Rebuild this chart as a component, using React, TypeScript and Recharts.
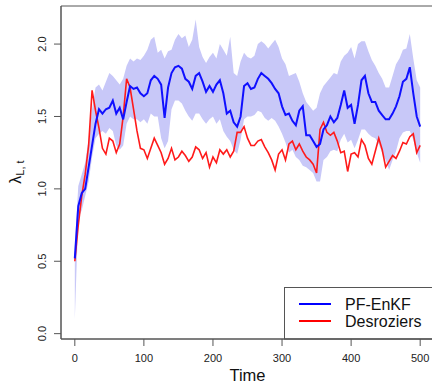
import { ComposedChart, Area, Line, XAxis, YAxis, ReferenceArea, Customized } from 'recharts';

// time step between the values
const STEP = 5;

const PF_ENKF = [
  0.52, 0.88, 0.97, 1.0, 1.15, 1.3, 1.45, 1.55, 1.52, 1.55,
  1.56, 1.61, 1.52, 1.56, 1.48, 1.6, 1.71, 1.69, 1.7, 1.66,
  1.64, 1.66, 1.75, 1.78, 1.76, 1.72, 1.49, 1.7, 1.8, 1.84,
  1.85, 1.83, 1.76, 1.74, 1.69, 1.78, 1.8, 1.74, 1.67, 1.71,
  1.67, 1.72, 1.75, 1.66, 1.52, 1.54, 1.46, 1.43, 1.5, 1.71,
  1.73, 1.69, 1.7, 1.76, 1.8, 1.78, 1.76, 1.73, 1.69, 1.66,
  1.57, 1.51, 1.52, 1.47, 1.44, 1.54, 1.57, 1.37, 1.37, 1.33,
  1.29, 1.31, 1.41, 1.44, 1.5, 1.46, 1.49, 1.58, 1.68, 1.56,
  1.58, 1.45, 1.58, 1.75, 1.78, 1.66, 1.6, 1.6, 1.54, 1.51,
  1.48, 1.48, 1.52, 1.57, 1.64, 1.74, 1.76, 1.84, 1.66, 1.5,
  1.43,
];

const DESROZIERS = [
  0.5, 0.75, 0.95, 1.1, 1.3, 1.68, 1.54, 1.42, 1.28, 1.24,
  1.35, 1.33, 1.25, 1.31, 1.5, 1.76, 1.7, 1.55, 1.4, 1.28,
  1.27, 1.21, 1.28, 1.35, 1.3, 1.25, 1.17, 1.21, 1.28, 1.2,
  1.22, 1.26, 1.23, 1.19, 1.22, 1.29, 1.27, 1.21, 1.25, 1.15,
  1.22, 1.18, 1.27, 1.24, 1.27, 1.22, 1.26, 1.39, 1.39, 1.43,
  1.35, 1.3, 1.3, 1.33, 1.34, 1.29, 1.25, 1.2, 1.13, 1.24,
  1.27, 1.2, 1.31, 1.33, 1.27, 1.31, 1.26, 1.22, 1.2, 1.17,
  1.11, 1.41, 1.46, 1.39, 1.37, 1.39, 1.33, 1.25, 1.26, 1.12,
  1.24, 1.25, 1.22, 1.34, 1.3, 1.21, 1.17, 1.26, 1.35, 1.27,
  1.15, 1.19, 1.23, 1.21, 1.26, 1.32, 1.31, 1.36, 1.38, 1.25,
  1.3,
];

// PF-EnKF spread (shaded band)
const PF_LOW = [
  0.1, 0.8, 0.85, 0.95, 1.05, 1.22, 1.35, 1.38, 1.4, 1.38,
  1.42, 1.4, 1.3, 1.27, 1.3, 1.45, 1.5, 1.48, 1.48, 1.46,
  1.48, 1.45, 1.52, 1.5, 1.5, 1.35, 1.28, 1.33, 1.55, 1.61,
  1.61, 1.59, 1.54, 1.5, 1.47, 1.52, 1.52, 1.48, 1.45, 1.48,
  1.5, 1.45, 1.48, 1.4, 1.36, 1.33, 1.27, 1.24, 1.34, 1.48,
  1.5, 1.5, 1.51, 1.54, 1.53, 1.49, 1.47, 1.49, 1.47, 1.43,
  1.38, 1.32, 1.25, 1.27, 1.22, 1.2, 1.16, 1.15, 1.13, 1.11,
  1.05, 1.05, 1.2, 1.22, 1.26, 1.27, 1.26, 1.34, 1.38, 1.32,
  1.34, 1.28, 1.34, 1.41, 1.41, 1.38, 1.36, 1.35, 1.31, 1.25,
  1.2, 1.13, 1.2, 1.26, 1.35, 1.39, 1.4, 1.4, 1.34, 1.25,
  1.18,
];

const PF_HIGH = [
  0.6, 1.02, 1.1, 1.18, 1.35, 1.55, 1.7, 1.72, 1.68, 1.74,
  1.8, 1.78, 1.75, 1.72, 1.76, 1.85, 1.9, 1.88, 1.9, 1.89,
  1.92, 1.96, 2.03, 2.05, 1.94, 1.96, 1.9, 1.95, 1.96, 2.03,
  2.07, 2.04, 2.06, 1.98, 2.03, 2.17, 1.98, 1.91, 1.87, 1.91,
  1.94, 1.9, 2.0, 1.96, 1.92, 2.05, 1.8, 1.78, 1.88, 1.94,
  1.91, 1.9, 1.92, 2.0, 2.02, 2.0, 1.97, 2.0, 2.03, 1.98,
  1.9, 1.86, 1.78, 1.79, 1.8, 1.74, 1.66, 1.6, 1.57, 1.54,
  1.56, 1.66, 1.71, 1.74, 1.77, 1.8, 1.79, 1.88, 1.92, 1.94,
  1.98, 1.9, 2.0, 2.02, 2.02, 1.95, 1.89, 1.85, 1.8, 1.76,
  1.7, 1.7, 1.78, 1.86, 1.9, 1.96, 1.97, 2.07, 1.9, 1.75,
  1.7,
];

const X_TICKS = [0, 100, 200, 300, 400, 500];
const Y_TICKS = [0, 0.5, 1, 1.5, 2];
const X_DOMAIN: [number, number] = [-20, 520];
const Y_DOMAIN: [number, number] = [-0.037, 2.263];

const FONT = '"Liberation Sans", Arial, sans-serif';
const AXIS = '#555';

const data = PF_ENKF.map((v, i) => ({
  t: i * STEP,
  pf: v,
  des: DESROZIERS[i],
  band: [PF_LOW[i], PF_HIGH[i]],
}));

function XTick({ x, y, payload }: any) {
  return (
    <text x={x} y={y + 14} textAnchor="middle" fontSize={11} fontFamily={FONT} fill="#222">
      {payload.value}
    </text>
  );
}

function YTick({ x, y, payload }: any) {
  return (
    <text
      transform={`translate(${x - 6},${y}) rotate(-90)`}
      textAnchor="middle"
      fontSize={11}
      fontFamily={FONT}
      fill="#222"
    >
      {Number(payload.value).toFixed(1)}
    </text>
  );
}

function Extras() {
  return (
    <g fontFamily={FONT}>
      <text x={247.5} y={381} textAnchor="middle" fontSize={16.5} fill="#111">
        Time
      </text>
      <text transform="translate(21,172) rotate(-90)" textAnchor="middle" fill="#111">
        <tspan fontSize={16}>λ</tspan>
        <tspan fontSize={11} dy={3}>L, t</tspan>
      </text>
      {/* legend box */}
      <rect x={284.5} y={287.5} width={160} height={51.5} fill="#fff" stroke={AXIS} strokeWidth={1} />
      <line x1={299} x2={331} y1={304} y2={304} stroke="#0000ff" strokeWidth={2} />
      <line x1={299} x2={331} y1={321} y2={321} stroke="#ff0000" strokeWidth={2} />
      <text x={345} y={310} fontSize={16} fill="#111">PF-EnKF</text>
      <text x={345} y={327} fontSize={16} fill="#111">Desroziers</text>
    </g>
  );
}

export default function App() {
  return (
    <div style={{ position: 'absolute', left: 0, top: 0, width: 432, height: 384, overflow: 'hidden', background: '#fff' }}>
      <ComposedChart width={440} height={384} data={data} margin={{ top: 6, right: 6, left: 0, bottom: 0 }}>
        <XAxis
          dataKey="t"
          type="number"
          domain={X_DOMAIN}
          ticks={X_TICKS}
          allowDataOverflow
          height={45}
          tickSize={7}
          axisLine={{ stroke: AXIS }}
          tickLine={{ stroke: AXIS }}
          tick={<XTick />}
        />
        <YAxis
          type="number"
          domain={Y_DOMAIN}
          ticks={Y_TICKS}
          allowDataOverflow
          width={61}
          tickSize={7}
          axisLine={{ stroke: AXIS }}
          tickLine={{ stroke: AXIS }}
          tick={<YTick />}
        />
        <Area
          dataKey="band"
          type="linear"
          stroke="none"
          fill="#c8c8f8"
          fillOpacity={1}
          isAnimationActive={false}
        />
        <Line dataKey="des" type="linear" stroke="#ff1a1a" strokeWidth={1.6} dot={false} isAnimationActive={false} />
        <Line dataKey="pf" type="linear" stroke="#1010ff" strokeWidth={2} dot={false} isAnimationActive={false} />
        <ReferenceArea
          x1={X_DOMAIN[0]}
          x2={X_DOMAIN[1]}
          y1={Y_DOMAIN[0]}
          y2={Y_DOMAIN[1]}
          fill="none"
          stroke={AXIS}
          strokeWidth={1}
          ifOverflow="visible"
        />
        <Customized component={Extras} />
      </ComposedChart>
    </div>
  );
}
